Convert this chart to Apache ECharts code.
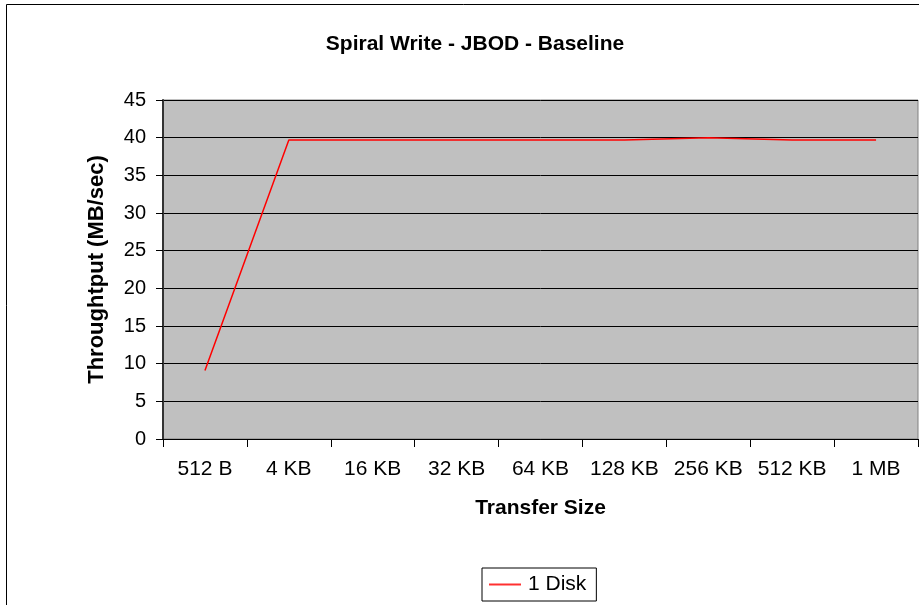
<!DOCTYPE html>
<html>
<head>
<meta charset="utf-8">
<script src="https://cdn.jsdelivr.net/npm/echarts@6/dist/echarts.min.js"></script>
<style>html,body{margin:0;padding:0;background:#fff;}#c{width:919px;height:605px;}</style>
</head>
<body>
<div id="c"></div>
<script>
const categories = ['512 B', '4 KB', '16 KB', '32 KB', '64 KB', '128 KB', '256 KB', '512 KB', '1 MB'];
const disk1 = [9.1, 39.7, 39.7, 39.7, 39.7, 39.7, 40.0, 39.7, 39.7];
const seriesName = '1 Disk';
const titleText = 'Spiral Write - JBOD - Baseline';
const xName = 'Transfer Size';
const yName = 'Throughtput (MB/sec)';

const font = 'Arial, "Liberation Sans", sans-serif';
const chart = echarts.init(document.getElementById('c'), null, {renderer: 'canvas'});
chart.setOption({
  backgroundColor: '#fff',
  animation: false,
  graphic: [{
    type: 'rect', left: 4, top: 2, silent: true, z: -10,
    shape: {x: 0, y: 0, width: 1200, height: 1200},
    style: {fill: 'none', stroke: '#000', lineWidth: 1}
  }],
  title: {
    text: titleText, left: 470, top: 29, textAlign: 'center',
    textStyle: {fontFamily: font, fontWeight: 'bold', fontSize: 21, color: '#000'}
  },
  legend: {
    data: [{name: seriesName, icon: 'rect', itemStyle: {color: '#ff3030'}}],
    left: 482, top: 568,
    borderColor: '#000', borderWidth: 1, padding: [6, 10, 6, 7],
    itemWidth: 32, itemHeight: 2, itemGap: 7,
    textStyle: {fontFamily: font, fontSize: 21, color: '#000', padding: [0, 0, 0, 2]}
  },
  grid: {
    left: 163, top: 100, width: 755, height: 339,
    show: true, backgroundColor: '#c0c0c0', borderColor: '#808080', borderWidth: 1
  },
  xAxis: {
    type: 'category', data: categories, boundaryGap: true,
    name: xName, nameLocation: 'middle', nameGap: 59,
    nameTextStyle: {fontFamily: font, fontWeight: 'bold', fontSize: 21, color: '#000'},
    axisLine: {show: true, lineStyle: {color: '#000', width: 1}},
    axisTick: {show: true, interval: 0, length: 8, lineStyle: {color: '#000'}},
    axisLabel: {interval: 0, margin: 20, fontFamily: font, fontSize: 21, color: '#000'},
    splitLine: {show: false}
  },
  yAxis: {
    type: 'value', min: 0, max: 45, interval: 5,
    name: yName, nameLocation: 'middle', nameGap: 55,
    nameTextStyle: {fontFamily: font, fontWeight: 'bold', fontSize: 22, color: '#000'},
    axisLine: {show: true, lineStyle: {color: '#333', width: 2}},
    axisTick: {show: true, length: 7, lineStyle: {color: '#000'}},
    axisLabel: {margin: 17, fontFamily: font, fontSize: 20, color: '#000'},
    splitLine: {show: true, lineStyle: {color: '#000', width: 1}}
  },
  series: [{
    name: seriesName, type: 'line', data: disk1, symbol: 'none',
    lineStyle: {color: '#ff0000', width: 1.5}, itemStyle: {color: '#ff0000'}
  }]
});
</script>
</body>
</html>
